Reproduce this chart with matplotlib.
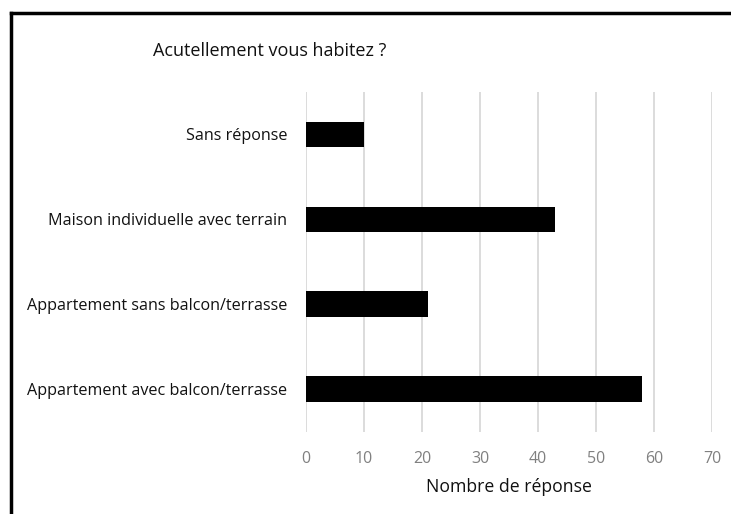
import matplotlib.pyplot as plt
from matplotlib.lines import Line2D

categories = ['Sans réponse', 'Maison individuelle avec terrain',
              'Appartement sans balcon/terrasse', 'Appartement avec balcon/terrasse']
values = [10, 43, 21, 58]
xticks = [0, 10, 20, 30, 40, 50, 60, 70]

plt.rcParams['font.family'] = ['Open Sans', 'DejaVu Sans']

fig = plt.figure(figsize=(7.31, 5.14), dpi=100)
ax = fig.add_axes([0.4186, 0.1605, 0.9740 - 0.4186, 0.821 - 0.1605])

# bars, first category on top
pos = list(range(len(categories)))[::-1]
ax.barh(pos, values, height=0.3, color='black', zorder=3)

ax.set_xlim(0, 70)
ax.set_ylim(-0.5, 3.5)
ax.set_xticks(xticks)
ax.set_xticklabels([str(t) for t in xticks], color='#808080', fontsize=11.5)
ax.set_yticks(pos)
ax.set_yticklabels(categories, fontsize=11.6, color='#111111')
ax.tick_params(axis='x', length=0, pad=14)
ax.tick_params(axis='y', length=0, pad=13.5)

ax.grid(axis='x', color='#d9d9d9', linewidth=1.3, zorder=0)
for s in ax.spines.values():
    s.set_visible(False)

ax.set_xlabel('Nombre de réponse', fontsize=12.7, color='#111111', labelpad=8)

fig.text(0.369, 0.90, 'Acutellement vous habitez ?', fontsize=13,
         ha='center', va='center', color='#111111')

# frame lines on top and left of the picture
fig.add_artist(Line2D([11 / 731, 11 / 731], [0, 1 - 13 / 514], color='black',
                      linewidth=2.5, transform=fig.transFigure))
fig.add_artist(Line2D([11 / 731, 1], [1 - 13 / 514, 1 - 13 / 514], color='black',
                      linewidth=2.5, transform=fig.transFigure))

fig.savefig('out.png', dpi=100)
